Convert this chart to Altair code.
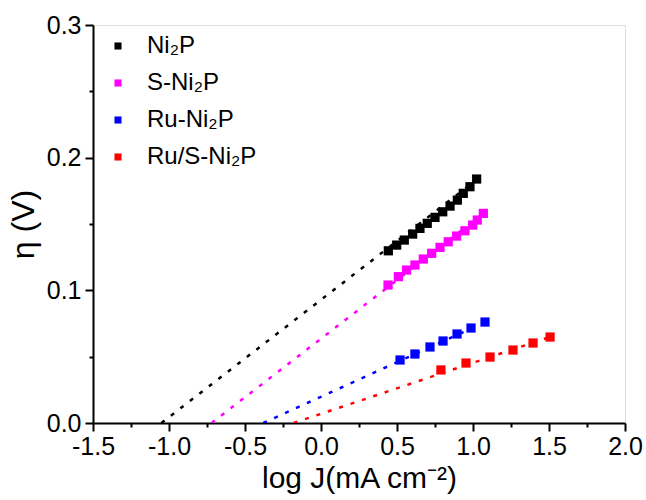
import altair as alt
import pandas as pd

series_names = ["Ni₂P", "S-Ni₂P", "Ru-Ni₂P", "Ru/S-Ni₂P"]
series_colors = ["#000000", "#ff00ff", "#0000ff", "#ff0000"]

ni2p_x = [0.443, 0.498, 0.548, 0.603, 0.651, 0.699, 0.750, 0.801, 0.849, 0.897, 0.936, 0.980, 1.024]
ni2p_y = [0.1298, 0.1341, 0.1379, 0.1424, 0.1467, 0.1505, 0.1550, 0.1592, 0.1635, 0.1680, 0.1731, 0.1781, 0.1839]

sni2p_x = [0.441, 0.509, 0.563, 0.618, 0.673, 0.728, 0.783, 0.837, 0.892, 0.947, 0.998, 1.028, 1.068]
sni2p_y = [0.1040, 0.1103, 0.1153, 0.1191, 0.1236, 0.1279, 0.1324, 0.1366, 0.1409, 0.1449, 0.1492, 0.1530, 0.1580]

runi2p_x = [0.520, 0.618, 0.717, 0.803, 0.895, 0.987, 1.079]
runi2p_y = [0.0475, 0.0520, 0.0573, 0.0618, 0.0671, 0.0716, 0.0761]

rusni2p_x = [0.789, 0.954, 1.112, 1.263, 1.395, 1.507]
rusni2p_y = [0.0400, 0.0452, 0.0497, 0.0550, 0.0603, 0.0648]

# Tafel fit lines (dashed): start at eta = 0, end at last point
fit_x0 = [-1.05, -0.72, -0.38, -0.18]
fit_y0 = [0.0, 0.0, 0.0, 0.0]
fit_x1 = [1.03, 1.07, 1.08, 1.51]
fit_y1 = [0.184, 0.158, 0.076, 0.065]

x_major = [-1.5, -1.0, -0.5, 0.0, 0.5, 1.0, 1.5, 2.0]
x_minor = [-1.25, -0.75, -0.25, 0.25, 0.75, 1.25, 1.75]
y_major = [0.0, 0.1, 0.2, 0.3]
y_minor = [0.05, 0.15, 0.25]

rows = []
for name, xs_, ys_ in zip(series_names,
                          [ni2p_x, sni2p_x, runi2p_x, rusni2p_x],
                          [ni2p_y, sni2p_y, runi2p_y, rusni2p_y]):
    for a, b in zip(xs_, ys_):
        rows.append({"series": name, "x": a, "y": b})
pts = pd.DataFrame(rows)

lrows = []
for i, name in enumerate(series_names):
    lrows.append({"series": name, "x": fit_x0[i], "y": fit_y0[i], "o": 0})
    lrows.append({"series": name, "x": fit_x1[i], "y": fit_y1[i], "o": 1})
lines = pd.DataFrame(lrows)

FONT = "Liberation Sans"

xaxis = alt.Axis(
    values=sorted(x_major + x_minor),
    title="log J(mA cm⁻²)",
    labelExpr="abs(datum.value*2 - round(datum.value*2)) > 0.01 ? '' : (datum.value < 0 ? '-' + format(abs(datum.value), '.1f') : format(datum.value, '.1f'))",
    tickSize={"condition": {"test": "abs(datum.value*2 - round(datum.value*2)) > 0.01", "value": 4}, "value": 8},
    grid=False,
    labelFontSize=25, titleFontSize=30, labelFont=FONT, titleFont=FONT,
    labelColor="black", titleColor="black", titleFontWeight="normal",
    domainColor="black", domainWidth=2, tickColor="black", tickWidth=2,
    labelPadding=3, titlePadding=4, labelFlush=False, labelOverlap=False,
)
yaxis = alt.Axis(
    values=sorted(y_major + y_minor),
    title="η (V)",
    labelExpr="abs(datum.value*10 - round(datum.value*10)) > 0.01 ? '' : format(datum.value, '.1f')",
    tickSize={"condition": {"test": "abs(datum.value*10 - round(datum.value*10)) > 0.01", "value": 4}, "value": 8},
    grid=False,
    labelFontSize=25, titleFontSize=32, labelFont=FONT, titleFont=FONT,
    labelColor="black", titleColor="black", titleFontWeight="normal",
    domainColor="black", domainWidth=2, tickColor="black", tickWidth=2,
    labelPadding=4, titlePadding=6, labelFlush=False, labelOverlap=False,
)

xs = alt.Scale(domain=[-1.5, 2.0], nice=False, zero=False)
ys = alt.Scale(domain=[0.0, 0.3], nice=False, zero=False)

legend = alt.Legend(
    title=None, orient="none", legendX=13, legendY=9,
    symbolType="square", symbolSize=50, symbolStrokeWidth=0,
    labelFontSize=24, labelFont=FONT, labelColor="black",
    labelOffset=17, rowPadding=13, padding=0,
    labelLimit=300,
)
color = alt.Color("series:N",
                  scale=alt.Scale(domain=series_names, range=series_colors),
                  sort=series_names, legend=legend)

line_layer = alt.Chart(lines).mark_line(strokeDash=[4, 8], strokeWidth=2.5, clip=True).encode(
    x=alt.X("x:Q", scale=xs, axis=xaxis),
    y=alt.Y("y:Q", scale=ys, axis=yaxis),
    color=color,
    detail="series:N",
    order="o:Q",
)

pt_layer = alt.Chart(pts).mark_square(size=85, opacity=1).encode(
    x=alt.X("x:Q", scale=xs, axis=xaxis),
    y=alt.Y("y:Q", scale=ys, axis=yaxis),
    color=color,
)

chart = alt.layer(line_layer, pt_layer).properties(
    width=532, height=398,
    autosize=alt.AutoSizeParams(type="none"),
    padding={"left": 93, "top": 25, "right": 21, "bottom": 77},
).configure_view(stroke="black", strokeWidth=2).configure(background="white")

chart.save("out.html", embed_options={"renderer": "svg", "actions": False})
